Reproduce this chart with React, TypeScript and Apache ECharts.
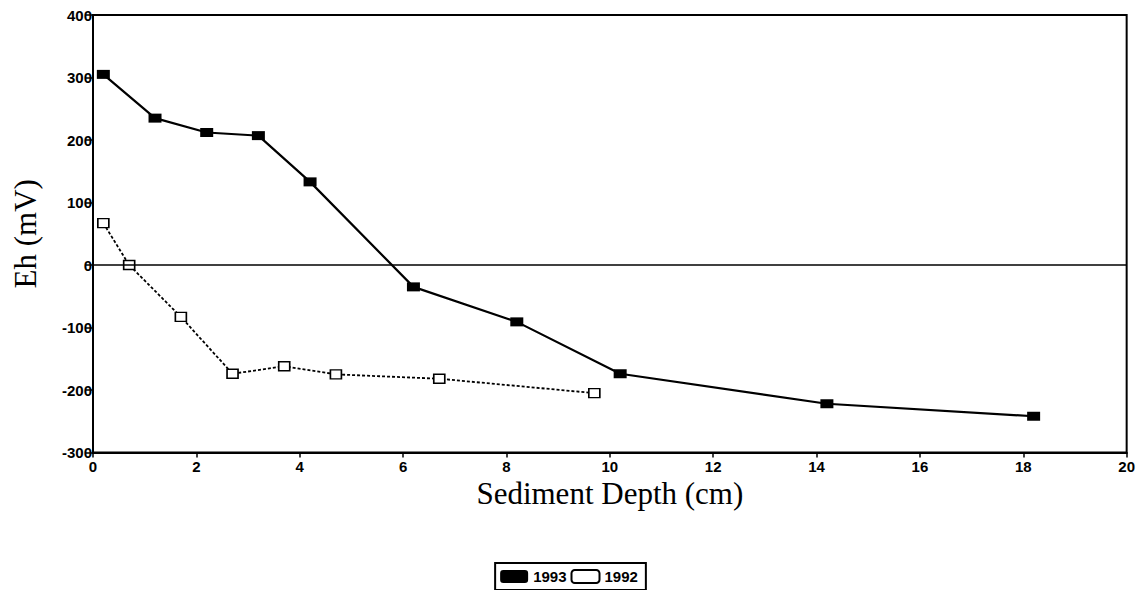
import React, { useEffect, useRef } from "react";
import * as echarts from "echarts";

const depth1993 = [0.2, 1.2, 2.2, 3.2, 4.2, 6.2, 8.2, 10.2, 14.2, 18.2];
const eh1993 = [305, 235, 212, 207, 133, -35, -91, -174, -222, -242];
const depth1992 = [0.2, 0.7, 1.7, 2.7, 3.7, 4.7, 6.7, 9.7];
const eh1992 = [67, 0, -83, -174, -162, -175, -182, -205];
const xTicks = [0, 2, 4, 6, 8, 10, 12, 14, 16, 18, 20];
const yTicks = [-300, -200, -100, 0, 100, 200, 300, 400];

export default function App() {
  const ref = useRef<HTMLDivElement>(null);
  useEffect(() => {
    if (!ref.current) return;
    const chart = echarts.init(ref.current, null, { renderer: "svg" });
    const tickFont = {
      fontFamily: "Liberation Sans, Arial, sans-serif",
      fontSize: 15,
      fontWeight: "bold" as const,
      color: "#000",
    };
    const serif = {
      fontFamily: "Liberation Serif, Times New Roman, serif",
      fontSize: 31,
      color: "#000",
    };
    chart.setOption({
      animation: false,
      backgroundColor: "#fff",
      grid: {
        left: 93,
        right: 11,
        top: 15,
        bottom: 137.5,
        show: true,
        borderColor: "#000",
        borderWidth: 2,
        backgroundColor: "transparent",
      },
      xAxis: {
        type: "value",
        min: xTicks[0],
        max: xTicks[xTicks.length - 1],
        interval: 2,
        name: "Sediment Depth (cm)",
        nameLocation: "middle",
        nameGap: 24,
        nameTextStyle: serif,
        axisLine: { onZero: false, lineStyle: { color: "#000", width: 2 } },
        axisTick: { show: true, length: 5, lineStyle: { color: "#000", width: 1.5 } },
        axisLabel: { ...tickFont, margin: 7, lineHeight: 13 },
        splitLine: { show: false },
      },
      yAxis: {
        type: "value",
        min: yTicks[0],
        max: yTicks[yTicks.length - 1],
        interval: 100,
        name: "Eh (mV)",
        nameLocation: "middle",
        nameGap: 52,
        nameTextStyle: serif,
        axisLine: { show: true, lineStyle: { color: "#000", width: 2 } },
        axisTick: { show: true, length: 8, lineStyle: { color: "#000", width: 1.5 } },
        axisLabel: { ...tickFont, margin: 1, lineHeight: 12 },
        splitLine: { show: false },
      },
      legend: {
        bottom: 0,
        left: "center",
        itemGap: 4,
        itemWidth: 28,
        itemHeight: 13,
        padding: [6, 8, 6, 5],
        borderColor: "#000",
        borderWidth: 2,
        borderRadius: 0,
        textStyle: { ...tickFont, fontSize: 15, padding: [0, 0, 0, 0] },
        data: [
          { name: "1993", icon: "roundRect", itemStyle: { color: "#000" } },
          {
            name: "1992",
            icon: "roundRect",
            itemStyle: { color: "#fff", borderColor: "#000", borderWidth: 2 },
          },
        ],
      },
      series: [
        {
          name: "1993",
          type: "line",
          data: depth1993.map((d, i) => [d, eh1993[i]]),
          symbol: "rect",
          symbolSize: [13, 9],
          lineStyle: { color: "#000", width: 2.2 },
          itemStyle: { color: "#000" },
          markLine: {
            silent: true,
            symbol: "none",
            label: { show: false },
            lineStyle: { color: "#000", width: 1.5, type: "solid" },
            data: [{ yAxis: 0 }],
          },
        },
        {
          name: "1992",
          type: "line",
          data: depth1992.map((d, i) => [d, eh1992[i]]),
          symbol: "rect",
          symbolSize: [11, 9],
          lineStyle: { color: "#000", width: 1.8, type: [3, 2] },
          itemStyle: { color: "#fff", borderColor: "#000", borderWidth: 1.5 },
        },
      ],
    });
    return () => chart.dispose();
  }, []);
  return <div ref={ref} style={{ width: 1138, height: 590, position: "absolute", left: 0, top: 0 }} />;
}
